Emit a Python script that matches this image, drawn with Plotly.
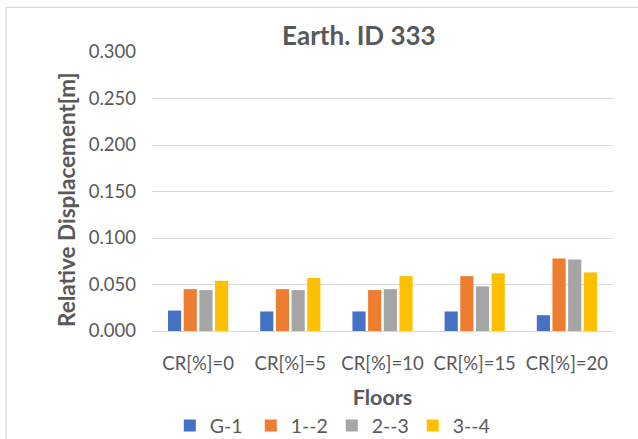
import plotly.graph_objects as go

# Relative inter-storey displacement per coupling ratio
categories = ["CR[%]=0", "CR[%]=5", "CR[%]=10", "CR[%]=15", "CR[%]=20"]
g_1 = [0.022, 0.021, 0.021, 0.021, 0.017]
f1_2 = [0.045, 0.045, 0.044, 0.059, 0.078]
f2_3 = [0.044, 0.044, 0.045, 0.048, 0.077]
f3_4 = [0.054, 0.057, 0.059, 0.062, 0.063]
y_ticks = [0.0, 0.05, 0.10, 0.15, 0.20, 0.25, 0.30]

series = [
    ("G-1", g_1, "#4472C4"),
    ("1--2", f1_2, "#ED7D31"),
    ("2--3", f2_3, "#A5A5A5"),
    ("3--4", f3_4, "#FFC000"),
]

FONT = "Lato"
TXT = "#595959"
GRID = "#D9D9D9"

fig = go.Figure()
for name, vals, color in series:
    fig.add_trace(go.Bar(
        x=categories, y=vals, name=name,
        marker=dict(color=color, line=dict(width=0)),
    ))

fig.update_layout(
    width=638, height=439,
    margin=dict(l=152, r=25, t=52, b=108, autoexpand=False),
    paper_bgcolor="white", plot_bgcolor="white",
    barmode="group", bargap=0.32, bargroupgap=0.16,
    font=dict(family=FONT, color=TXT, size=18.5),
    title=dict(text="<b>Earth. ID 333</b>", x=0.5625, xanchor="center",
               y=1 - 35.5 / 439, yanchor="middle",
               font=dict(family=FONT, size=26, color=TXT)),
    showlegend=True,
    legend=dict(orientation="h", x=0.39, xanchor="center", y=-0.34,
                yanchor="middle", font=dict(family=FONT, size=19.5, color=TXT),
                traceorder="normal", itemwidth=30, entrywidth=36,
                bgcolor="rgba(0,0,0,0)"),
)

fig.update_xaxes(
    showgrid=False, showline=False, zeroline=False, ticks="",
    ticklabelstandoff=19,
    tickfont=dict(family=FONT, size=18.5, color=TXT),
    title=dict(text="<b>Floors</b>", standoff=17,
               font=dict(family=FONT, size=21.5, color=TXT)),
)
fig.update_yaxes(
    range=[0, 0.3], tickvals=y_ticks, tickformat=".3f",
    showgrid=True, gridcolor=GRID, gridwidth=1.3,
    zeroline=True, zerolinecolor=GRID, zerolinewidth=1.3,
    showline=False, ticks="", ticklabelstandoff=15,
    tickfont=dict(family=FONT, size=18.5, color=TXT),
)

# vertical axis title, placed in pixel terms relative to the plot area
plot_w, plot_h = 638 - 152 - 25, 439 - 52 - 108
fig.add_annotation(
    text="<b>Relative Displacement[m]</b>", textangle=-90,
    xref="paper", yref="paper",
    x=(66 - 152) / plot_w, y=(439 - 108 - 200) / plot_h,
    xanchor="center", yanchor="middle", showarrow=False,
    font=dict(family=FONT, size=22.5, color=TXT),
)

# chart-area frame (top and left edges visible)
fig.add_shape(type="line", xref="paper", yref="paper",
              x0=-0.3167, x1=1.1, y0=1.16, y1=1.16,
              line=dict(color=GRID, width=1.3))
fig.add_shape(type="line", xref="paper", yref="paper",
              x0=-0.3167, x1=-0.3167, y0=1.16, y1=-0.5,
              line=dict(color=GRID, width=1.3))

fig.write_html("out.html")
